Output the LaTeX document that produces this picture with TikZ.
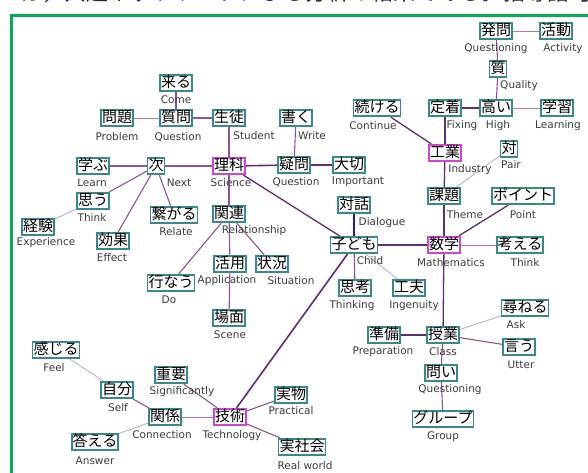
\documentclass[tikz,border=0pt]{standalone}
\usepackage{fontspec}
\newfontfamily\cjk{Noto Sans CJK JP}
\newfontfamily\labfont{DejaVu Sans}
\usetikzlibrary{backgrounds}
\definecolor{boxc}{RGB}{56,138,138}
\definecolor{magc}{RGB}{205,70,205}
\definecolor{framec}{RGB}{0,176,80}
\definecolor{dk}{RGB}{95,45,115}
\definecolor{md}{RGB}{140,85,145}
\definecolor{lt}{RGB}{190,165,190}
\definecolor{pk}{RGB}{190,115,175}
\definecolor{bl}{RGB}{25,25,170}
\definecolor{labc}{RGB}{60,60,60}
\begin{document}
\begin{tikzpicture}[x=1pt,y=-1pt,
  jb/.style={draw=boxc, line width=1.8pt, fill=white, font=\cjk\fontsize{15}{15}\selectfont,
    inner xsep=1pt, inner ysep=0pt, minimum height=16.5pt, text height=12pt, text depth=2.5pt},
  mb/.style={jb, draw=magc},
  lb/.style={font=\labfont\fontsize{10.5}{11}\selectfont, inner sep=0pt, text=labc},
  edk/.style={draw=dk, line width=1.6pt},
  emd/.style={draw=md, line width=1.1pt},
  elt/.style={draw=lt, line width=0.8pt},
  epk/.style={draw=pk, line width=1pt},
  ebl/.style={draw=bl, line width=2pt}]
\useasboundingbox (0,0) rectangle (588,472);
\clip (0,0) rectangle (588,472);
% title line (cut off at top)
\node[anchor=base west, inner sep=0pt, font=\cjk\fontsize{22}{22}\selectfont, text=black!85] (title) at (20,0) {は，共起ネットワークによる分析の結果である。指導語句の};
\draw[framec, line width=3pt] (11.5,15) rectangle (600,490);
% nodes
\node[jb] (kuru) at (176,83) {来る};
\node[jb] (mondai) at (117,118) {問題};
\node[jb] (shitsumon) at (176,118) {質問};
\node[jb] (seito) at (229,118) {生徒};
\node[jb] (kaku) at (296,118) {書く};
\node[jb] (manabu) at (93,166) {学ぶ};
\node[jb] (tsugi) at (156,166) {次};
\node[mb] (rika) at (229,166) {理科};
\node[jb] (gimon) at (294,165) {疑問};
\node[jb] (taisetsu) at (349,165) {大切};
\node[jb] (omou) at (93,201) {思う};
\node[jb] (keiken) at (38,227) {経験};
\node[jb] (tsunagaru) at (174,215) {繋がる};
\node[jb] (kanren) at (229,214) {関連};
\node[jb] (kouka) at (113,241) {効果};
\node[jb] (katsuyou) at (230,264) {活用};
\node[jb] (joukyou) at (272,264) {状況};
\node[jb] (okonau) at (171,283) {行なう};
\node[jb] (bamen) at (229,318) {場面};
\node[jb] (kanjiru) at (56,350) {感じる};
\node[jb] (juuyou) at (171,375) {重要};
\node[jb] (jibun) at (117,390) {自分};
\node[jb] (kankei) at (165,417) {関係};
\node[mb] (gijutsu) at (230,417) {技術};
\node[jb] (kotaeru) at (95,442) {答える};
\node[jb] (jitsubutsu) at (291,395) {実物};
\node[jb] (jisshakai) at (302,447) {実社会};
\node[jb] (hatsumon) at (496,31) {発問};
\node[jb] (katsudou) at (556,31) {活動};
\node[jb] (shitsu) at (498,69) {質};
\node[jb] (tsuzukeru) at (377,108) {続ける};
\node[jb] (teichaku) at (445,108) {定着};
\node[jb] (takai) at (496,108) {高い};
\node[jb] (gakushuu) at (557,108) {学習};
\node[mb] (kougyou) at (445,153) {工業};
\node[jb] (tsui) at (509,149) {対};
\node[jb] (kadai) at (444,196) {課題};
\node[jb] (point) at (523,196) {ポイント};
\node[mb] (suugaku) at (444,245) {数学};
\node[jb] (kangaeru) at (520,245) {考える};
\node[jb] (kodomo) at (354,245) {子ども};
\node[jb] (taiwa) at (354,205) {対話};
\node[jb] (shikou) at (355,288) {思考};
\node[jb] (kufuu) at (409,288) {工夫};
\node[jb] (tazuneru) at (525,308) {尋ねる};
\node[jb] (junbi) at (384,335) {準備};
\node[jb] (jugyou) at (443,335) {授業};
\node[jb] (iu) at (519,347) {言う};
\node[jb] (toi) at (441,373) {問い};
\node[jb] (group) at (443,419) {グループ};
% edges
\begin{pgfonlayer}{background}
\fill[white] (0,0) rectangle (588,472);
\draw[emd] (kuru) -- (shitsumon);
\draw[epk] (mondai) -- (shitsumon);
\draw[emd] (shitsumon) -- (seito);
\draw[emd] (seito) -- (rika);
\draw[emd] (kaku) -- (gimon);
\draw[edk] (rika) -- (gimon);
\draw[edk] (gimon) -- (taisetsu);
\draw[emd] (tsugi) -- (rika);
\draw[emd] (manabu) -- (tsugi);
\draw[emd] (tsugi) -- (omou);
\draw[elt] (omou) -- (keiken);
\draw[emd] (tsugi) -- (kouka);
\draw[emd] (tsugi) -- (tsunagaru);
\draw[emd] (rika) -- (kanren);
\draw[emd] (kanren) -- (katsuyou);
\draw[emd] (katsuyou) -- (bamen);
\draw[emd] (kanren) -- (joukyou);
\draw[emd] (kanren) -- (okonau);
\draw[edk, line width=1.3pt] (rika) -- (kodomo);
\draw[ebl] (kodomo) -- (taiwa);
\draw[edk] (kodomo) -- (suugaku);
\draw[emd] (kodomo) -- (shikou);
\draw[elt] (kodomo) -- (kufuu);
\draw[edk] (kodomo) -- (gijutsu);
\draw[edk, line width=1.3pt] (suugaku) -- (kadai);
\draw[edk, line width=1.3pt] (kadai) -- (kougyou);
\draw[edk, line width=1.3pt] (kougyou) -- (teichaku);
\draw[edk, line width=1.3pt] (kougyou) -- (tsuzukeru);
\draw[edk, line width=1.3pt] (teichaku) -- (takai);
\draw[epk] (takai) -- (gakushuu);
\draw[emd] (takai) -- (shitsu);
\draw[emd] (shitsu) -- (hatsumon);
\draw[epk] (hatsumon) -- (katsudou);
\draw[elt] (kadai) -- (tsui);
\draw[edk, line width=1.3pt] (suugaku) -- (point);
\draw[epk] (suugaku) -- (kangaeru);
\draw[edk, line width=1.3pt] (suugaku) -- (jugyou);
\draw[edk] (jugyou) -- (junbi);
\draw[elt] (jugyou) -- (tazuneru);
\draw[emd] (jugyou) -- (iu);
\draw[emd] (jugyou) -- (toi);
\draw[emd] (toi) -- (group);
\draw[epk] (gijutsu) -- (kankei);
\draw[emd] (kankei) -- (jibun);
\draw[elt] (jibun) -- (kanjiru);
\draw[elt] (kankei) -- (kotaeru);
\draw[emd] (gijutsu) -- (juuyou);
\draw[emd] (gijutsu) -- (jitsubutsu);
\draw[emd] (gijutsu) -- (jisshakai);
\end{pgfonlayer}
% labels
\node[lb] (kuruL) at (176,100) {Come};
\node[lb] (mondaiL) at (117,137) {Problem};
\node[lb] (shitsumonL) at (178,137) {Question};
\node[lb] (seitoL) at (254,136) {Student};
\node[lb] (kakuL) at (312,136) {Write};
\node[lb] (manabuL) at (92,183) {Learn};
\node[lb] (tsugiL) at (179,183) {Next};
\node[lb] (rikaL) at (231,183) {Science};
\node[lb] (gimonL) at (296,182) {Question};
\node[lb] (taisetsuL) at (358,182) {Important};
\node[lb] (omouL) at (92,218) {Think};
\node[lb] (keikenL) at (46,243) {Experience};
\node[lb] (tsunagaruL) at (176,232) {Relate};
\node[lb] (kanrenL) at (254,231) {Relationship};
\node[lb] (koukaL) at (112,258) {Effect};
\node[lb] (katsuyouL) at (227,281) {Application};
\node[lb] (joukyouL) at (291,281) {Situation};
\node[lb] (okonauL) at (169,300) {Do};
\node[lb] (bamenL) at (230,335) {Scene};
\node[lb] (kanjiruL) at (54,368) {Feel};
\node[lb] (juuyouL) at (182,392) {Significantly};
\node[lb] (jibunL) at (118,408) {Self};
\node[lb] (kankeiL) at (162,435) {Connection};
\node[lb] (gijutsuL) at (232,436) {Technology};
\node[lb] (kotaeruL) at (95,461) {Answer};
\node[lb] (jitsubutsuL) at (291,411) {Practical};
\node[lb] (jisshakaiL) at (305,466) {Real world};
\node[lb] (hatsumonL) at (496,49) {Questioning};
\node[lb] (katsudouL) at (563,49) {Activity};
\node[lb] (shitsuL) at (519,86) {Quality};
\node[lb] (tsuzukeruL) at (373,126) {Continue};
\node[lb] (teichakuL) at (462,126) {Fixing};
\node[lb] (takaiL) at (498,126) {High};
\node[lb] (gakushuuL) at (558,126) {Learning};
\node[lb] (kougyouL) at (470,170) {Industry};
\node[lb] (tsuiL) at (511,165) {Pair};
\node[lb] (kadaiL) at (465,215) {Theme};
\node[lb] (pointL) at (523,215) {Point};
\node[lb] (taiwaL) at (382,223) {Dialogue};
\node[lb] (kodomoL) at (370,261) {Child};
\node[lb] (suugakuL) at (451,263) {Mathematics};
\node[lb] (kangaeruL) at (525,263) {Think};
\node[lb] (shikouL) at (352,306) {Thinking};
\node[lb] (kufuuL) at (414,306) {Ingenuity};
\node[lb] (tazuneruL) at (516,325) {Ask};
\node[lb] (junbiL) at (383,352) {Preparation};
\node[lb] (jugyouL) at (443,352) {Class};
\node[lb] (iuL) at (521,365) {Utter};
\node[lb] (toiL) at (450,390) {Questioning};
\node[lb] (groupL) at (443,437) {Group};
\end{tikzpicture}
\end{document}
